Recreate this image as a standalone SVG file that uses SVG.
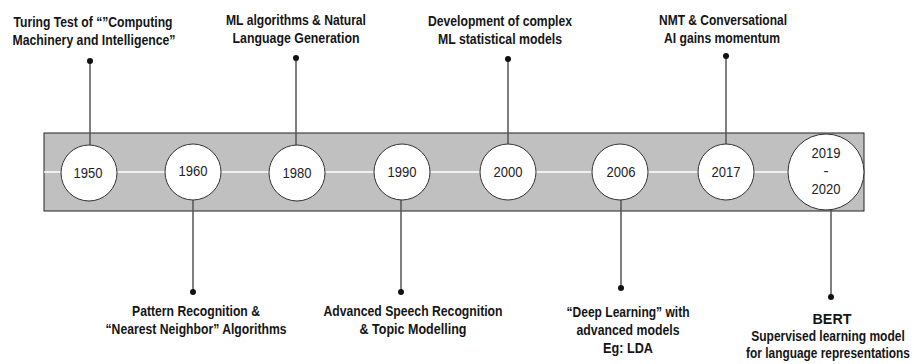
<svg xmlns="http://www.w3.org/2000/svg" width="914" height="364" viewBox="0 0 914 364">
<style>
.lbl{font-family:"Liberation Sans Narrow","Liberation Sans",Arial,sans-serif;font-weight:bold;font-size:15px;fill:#151515;text-anchor:middle}
.yr{font-family:"Liberation Sans",Arial,sans-serif;font-size:15px;fill:#222;text-anchor:middle}
.node circle{fill:#fff;stroke:#333;stroke-width:1}
.conn line{stroke:#555;stroke-width:1.5}
.conn circle{fill:#111}
</style>
<rect width="914" height="364" fill="#fff"/>
<g id="band">
<rect x="44" y="133" width="820" height="78" fill="#c0c0c0" stroke="#222" stroke-width="1"/>
<line x1="44" y1="172" x2="864" y2="172" stroke="#fff" stroke-width="1.5"/>
</g>
<g id="connectors" class="conn">
<line x1="90" y1="61" x2="90" y2="145"/><circle cx="90" cy="61" r="3"/>
<line x1="296" y1="58" x2="296" y2="145"/><circle cx="296" cy="58" r="3"/>
<line x1="508" y1="59" x2="508" y2="144"/><circle cx="508" cy="59" r="3"/>
<line x1="726" y1="56" x2="726" y2="144"/><circle cx="726" cy="56" r="3"/>
<line x1="193" y1="200" x2="193" y2="292"/><circle cx="193" cy="292" r="3"/>
<line x1="401" y1="200" x2="401" y2="292"/><circle cx="401" cy="292" r="3"/>
<line x1="621" y1="200" x2="621" y2="288"/><circle cx="621" cy="288" r="3"/>
<line x1="831" y1="210" x2="831" y2="297"/><circle cx="831" cy="297" r="3"/>
</g>
<g id="n1950" class="node"><circle cx="89" cy="173" r="28"/><text class="yr" x="88" y="178" textLength="29" lengthAdjust="spacingAndGlyphs">1950</text></g>
<g id="n1960" class="node"><circle cx="193" cy="172" r="28"/><text class="yr" x="193" y="176" textLength="29" lengthAdjust="spacingAndGlyphs">1960</text></g>
<g id="n1980" class="node"><circle cx="297" cy="173" r="28"/><text class="yr" x="297" y="178" textLength="29" lengthAdjust="spacingAndGlyphs">1980</text></g>
<g id="n1990" class="node"><circle cx="402" cy="172" r="28"/><text class="yr" x="402" y="177" textLength="29" lengthAdjust="spacingAndGlyphs">1990</text></g>
<g id="n2000" class="node"><circle cx="508" cy="172" r="28"/><text class="yr" x="508" y="177" textLength="29" lengthAdjust="spacingAndGlyphs">2000</text></g>
<g id="n2006" class="node"><circle cx="620" cy="172" r="28"/><text class="yr" x="621" y="177" textLength="29" lengthAdjust="spacingAndGlyphs">2006</text></g>
<g id="n2017" class="node"><circle cx="726" cy="172" r="28"/><text class="yr" x="726" y="177" textLength="29" lengthAdjust="spacingAndGlyphs">2017</text></g>
<g id="n2019" class="node"><circle cx="826" cy="172" r="38"/>
<text class="yr" x="826" y="158" textLength="29" lengthAdjust="spacingAndGlyphs">2019</text>
<text class="yr" x="826" y="176">-</text>
<text class="yr" x="826" y="194" textLength="29" lengthAdjust="spacingAndGlyphs">2020</text></g>
<g id="labels">
<text class="lbl" x="93" y="27" textLength="159" lengthAdjust="spacingAndGlyphs">Turing Test of “”Computing</text>
<text class="lbl" x="94" y="45" textLength="163" lengthAdjust="spacingAndGlyphs">Machinery and Intelligence”</text>
<text class="lbl" x="296" y="25" textLength="140" lengthAdjust="spacingAndGlyphs">ML algorithms &amp; Natural</text>
<text class="lbl" x="296" y="43" textLength="127" lengthAdjust="spacingAndGlyphs">Language Generation</text>
<text class="lbl" x="500" y="26" textLength="144" lengthAdjust="spacingAndGlyphs">Development of complex</text>
<text class="lbl" x="500" y="44" textLength="124" lengthAdjust="spacingAndGlyphs">ML statistical models</text>
<text class="lbl" x="723" y="25" textLength="128" lengthAdjust="spacingAndGlyphs">NMT &amp; Conversational</text>
<text class="lbl" x="722" y="43" textLength="116" lengthAdjust="spacingAndGlyphs">AI gains momentum</text>
<text class="lbl" x="196" y="316" textLength="128" lengthAdjust="spacingAndGlyphs">Pattern Recognition &amp;</text>
<text class="lbl" x="196" y="334" textLength="181" lengthAdjust="spacingAndGlyphs">“Nearest Neighbor” Algorithms</text>
<text class="lbl" x="413" y="316" textLength="179" lengthAdjust="spacingAndGlyphs">Advanced Speech Recognition</text>
<text class="lbl" x="413" y="334" textLength="107" lengthAdjust="spacingAndGlyphs">&amp; Topic Modelling</text>
<text class="lbl" x="628" y="317" textLength="123" lengthAdjust="spacingAndGlyphs">“Deep Learning” with</text>
<text class="lbl" x="628" y="335" textLength="103" lengthAdjust="spacingAndGlyphs">advanced models</text>
<text class="lbl" x="628" y="353" textLength="50" lengthAdjust="spacingAndGlyphs">Eg: LDA</text>
<text class="lbl" x="832" y="324" textLength="39" lengthAdjust="spacingAndGlyphs">BERT</text>
<text class="lbl" transform="translate(828,341) scale(0.78,1)" x="0" y="0" textLength="197" lengthAdjust="spacingAndGlyphs">Supervised learning model</text>
<text class="lbl" transform="translate(828,358) scale(0.78,1)" x="0" y="0" textLength="210" lengthAdjust="spacingAndGlyphs">for language representations</text>
</g>
</svg>
